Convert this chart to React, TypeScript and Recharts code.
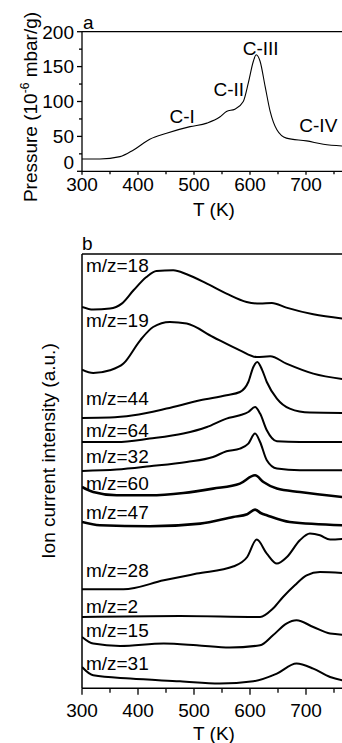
import React from "react";
import { LineChart, Line, XAxis, YAxis, ReferenceDot, ReferenceLine } from "recharts";

const FONT = '"Liberation Sans", Arial, Helvetica, sans-serif';
const INK = "#000";

type Pt = [number, number];

// shared temperature ticks (K), labels only on the hundreds
const tTicks = [300, 350, 400, 450, 500, 550, 600, 650, 700, 750];
const pTicks = [0, 25, 50, 75, 100, 125, 150, 175, 200];

// panel a: pressure, 10^-6 mbar/g
const pressure: Pt[] = [
  [300, 17.7], [332, 17.7], [368, 21], [392, 30.6], [421, 46], [451, 54.6], [493, 64],
  [523, 69], [546, 77.7], [558, 85.8], [573, 89], [588, 100], [597, 126.6], [606, 157.7],
  [611, 167], [618, 157.7], [627, 121.7], [636, 85.8], [648, 59.4], [665, 47.5],
  [701, 43.6], [731, 38.8], [770, 36],
];
const peakNames = ["C-I", "C-II", "C-III", "C-IV"];
const peakSpots: Pt[] = [[479, 69], [562, 108], [619, 166], [722, 57]];

// panel b: ion currents, stacked, a.u.
const mz18: Pt[] = [
  [300, 381.3], [320, 378.7], [350, 379.7], [371, 384.7], [392, 398], [415, 411.3], [433, 417.3],
  [463, 418], [487, 414], [523, 404.7], [558, 394.7], [594, 386.3], [618, 384.7], [639, 385.3],
  [665, 380.7], [713, 374], [770, 369.5],
];
const mz19: Pt[] = [
  [300, 318.7], [320, 315.3], [350, 318], [374, 324.7], [404, 348], [427, 361.3], [457, 366.3],
  [487, 364.7], [534, 351.3], [582, 338], [612, 331.3], [636, 332], [665, 324.7], [713, 314.7],
  [770, 309],
];
const mz44: Pt[] = [
  [300, 270.3], [350, 270.7], [392, 273], [451, 279.7], [511, 288], [558, 293], [582, 296.3],
  [597, 306.3], [606, 321.3], [613, 326.3], [622, 318], [630, 306.3], [648, 289.7], [671, 279.7],
  [707, 275.7], [770, 275.3],
];
const mz64: Pt[] = [
  [300, 246.3], [362, 246.3], [421, 249.7], [481, 254.7], [523, 261.3], [558, 269.7], [582, 273],
  [597, 276.3], [609, 281.3], [618, 274.7], [630, 258], [648, 247], [689, 246.3], [770, 246.3],
];
const mz32: Pt[] = [
  [300, 217.3], [362, 218.7], [421, 222], [487, 226.3], [534, 231.3], [558, 237], [582, 239.7],
  [597, 244.7], [609, 254.7], [618, 246.3], [630, 228], [648, 219.7], [689, 218], [770, 218],
];
const mz60: Pt[] = [
  [300, 201.3], [320, 196.3], [362, 193], [421, 193], [481, 195.3], [534, 199.7], [582, 204.7],
  [609, 213], [624, 206.3], [648, 199.7], [689, 196.3], [770, 191],
];
const mz47: Pt[] = [
  [300, 166.3], [332, 163], [421, 162], [511, 164.7], [570, 171.3], [595, 174], [609, 178.7],
  [620, 175], [630, 173], [671, 166.3], [770, 163],
];
const mz28: Pt[] = [
  [300, 99], [374, 99], [446, 108], [505, 114.7], [571, 122], [595, 131.3], [612, 148.7],
  [630, 134.7], [648, 124.7], [666, 131.3], [689, 148], [707, 154.7], [725, 153], [743, 148.7],
  [770, 149.7],
];
const mz2: Pt[] = [
  [300, 71.3], [475, 72.3], [618, 71.3], [641, 79.7], [659, 91.3], [680, 103], [701, 113],
  [725, 116.3], [770, 115],
];
const mz15: Pt[] = [
  [300, 51.3], [320, 44.7], [368, 42.3], [446, 44.7], [505, 43], [564, 40.7], [618, 43],
  [641, 53], [665, 64.7], [683, 68], [713, 61.3], [743, 54.7], [770, 53.5],
];
const mz31: Pt[] = [
  [300, 21.3], [320, 13], [386, 9.7], [475, 7], [546, 4.7], [606, 7], [648, 14.7], [683, 24.7],
  [713, 19.7], [743, 11.3], [770, 7.5],
];

const ionNames = ["m/z=18", "m/z=19", "m/z=44", "m/z=64", "m/z=32", "m/z=60", "m/z=47", "m/z=28", "m/z=2", "m/z=15", "m/z=31"];
const ionSeries = [mz18, mz19, mz44, mz64, mz32, mz60, mz47, mz28, mz2, mz15, mz31];
const ionLabelLevels = [416, 361, 283, 251, 225, 198, 169, 111, 75, 51, 18];
const noisy = ["m/z=60", "m/z=47"];

const toRows = (pts: Pt[]) => pts.map(([t, v]) => ({ t, v }));

const xTick = (major: number, minor: number, labelDy: number) => (p: any) => {
  const v = p.payload.value;
  const big = v % 100 === 0;
  return (
    <g>
      <line x1={p.x} x2={p.x} y1={p.y} y2={p.y + (big ? major : minor)} stroke={INK} strokeWidth={1.3} />
      {big && (
        <text x={p.x} y={p.y + labelDy} textAnchor="middle" fontSize={19} fontFamily={FONT} fill={INK}>
          {v}
        </text>
      )}
    </g>
  );
};

const yTick = (p: any) => {
  const v = p.payload.value;
  const big = v % 50 === 0;
  return (
    <g>
      <line x1={p.x} x2={p.x - (big ? 5 : 3)} y1={p.y} y2={p.y} stroke={INK} strokeWidth={1.3} />
      {big && (
        <text x={p.x - 8} y={v === 0 ? p.y - 9 : p.y} dy="0.36em" textAnchor="end" fontSize={19} fontFamily={FONT} fill={INK}>
          {v}
        </text>
      )}
    </g>
  );
};

const txt = { fontFamily: FONT, fill: INK, fontSize: 19 };

export default function App() {
  return (
    <div style={{ position: "fixed", left: 0, top: 0, width: 342, height: 743, overflow: "hidden", background: "#fff" }}>
      <div style={{ position: "absolute", left: 0, top: 0 }}>
        <LineChart width={350} height={220} margin={{ top: 31.7, right: 4.8, bottom: 0, left: 0 }}>
          <XAxis
            type="number"
            dataKey="t"
            domain={[300, 770]}
            ticks={tTicks}
            interval={0}
            allowDataOverflow
            height={48.7}
            tickSize={0}
            tickMargin={0}
            tickLine={false}
            axisLine={{ stroke: INK, strokeWidth: 1.3 }}
            tick={xTick(3.5, 3, 19.5)}
            label={{
              content: () => (
                <text x={214} y={216} textAnchor="middle" {...txt}>T (K)</text>
              ),
            }}
          />
          <YAxis
            type="number"
            domain={[0, 200]}
            ticks={pTicks}
            interval={0}
            width={82}
            tickSize={0}
            tickMargin={0}
            tickLine={false}
            axisLine={{ stroke: INK, strokeWidth: 1.3 }}
            tick={yTick}
            label={{
              content: () => (
                <g>
                  <text transform="rotate(-90)" x={-107} y={37} textAnchor="middle" {...txt}>
                    Pressure (10
                    <tspan dy={-8} fontSize={12}>-6</tspan>
                    <tspan dy={8}> mbar/g)</tspan>
                  </text>
                  <text x={83} y={28.5} {...txt}>a</text>
                </g>
              ),
            }}
          />
          <ReferenceLine y={200} stroke={INK} strokeWidth={1.3} />
          <Line
            data={pressure.map(([t, p]) => ({ t, p }))}
            dataKey="p"
            type="monotone"
            stroke={INK}
            strokeWidth={1.1}
            dot={false}
            isAnimationActive={false}
          />
          {peakNames.map((name, i) => (
            <ReferenceDot
              key={name}
              x={peakSpots[i][0]}
              y={peakSpots[i][1]}
              r={1}
              ifOverflow="visible"
              shape={(p: any) => (
                <text x={p.cx} y={p.cy} textAnchor="middle" {...txt}>{name}</text>
              )}
            />
          ))}
        </LineChart>
      </div>

      <div style={{ position: "absolute", left: 0, top: 220 }}>
        <LineChart width={350} height={523} margin={{ top: 34, right: 4.8, bottom: 0, left: 0 }}>
          <XAxis
            type="number"
            dataKey="t"
            domain={[300, 770]}
            ticks={tTicks}
            interval={0}
            allowDataOverflow
            height={54.7}
            tickSize={0}
            tickMargin={0}
            tickLine={false}
            axisLine={{ stroke: INK, strokeWidth: 1.5 }}
            tick={xTick(6.5, 4.5, 28.5)}
            label={{
              content: () => (
                <text x={214} y={520} textAnchor="middle" {...txt}>T (K)</text>
              ),
            }}
          />
          <YAxis
            type="number"
            domain={[0, 434.3]}
            width={82}
            tick={false}
            tickLine={false}
            axisLine={{ stroke: INK, strokeWidth: 1.5 }}
            label={{
              content: () => (
                <g>
                  <text transform="rotate(-90)" x={-231} y={55} textAnchor="middle" {...txt}>
                    Ion current intensity (a.u.)
                  </text>
                  <text x={82} y={30} {...txt}>b</text>
                </g>
              ),
            }}
          />
          <ReferenceLine y={434.3} stroke={INK} strokeWidth={1.5} />
          {ionSeries.map((pts, i) => (
            <Line
              key={ionNames[i]}
              data={toRows(pts)}
              dataKey="v"
              type="monotone"
              stroke={INK}
              strokeWidth={noisy.includes(ionNames[i]) ? 2.6 : 2}
              dot={false}
              isAnimationActive={false}
            />
          ))}
          {ionNames.map((name, i) => (
            <ReferenceDot
              key={"lbl" + name}
              x={307}
              y={ionLabelLevels[i]}
              r={1}
              ifOverflow="visible"
              shape={(p: any) => (
                <text x={p.cx} y={p.cy} {...txt}>{name}</text>
              )}
            />
          ))}
        </LineChart>
      </div>
    </div>
  );
}
